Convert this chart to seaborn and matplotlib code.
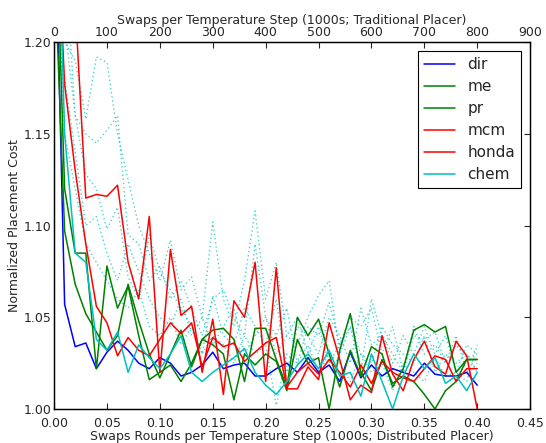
import numpy as np
import pandas as pd
import matplotlib
matplotlib.use("Agg")
import matplotlib.pyplot as plt
import seaborn as sns
from matplotlib.ticker import FormatStrFormatter

# distributed placer: swap rounds per temperature step (1000s)
rounds = [i / 100 for i in range(41)]
# traditional placer: swaps per temperature step (1000s)
swaps = list(range(0, 801, 20))

names = ["dir", "me", "pr", "mcm", "honda", "chem"]
colors = {"dir": "b", "me": "g", "pr": "g", "mcm": "r", "honda": "r", "chem": "c"}

dir_cost = [1.30, 1.057, 1.034, 1.036, 1.022, 1.031, 1.037, 1.032, 1.025, 1.022, 1.028,
            1.025, 1.018, 1.020, 1.024, 1.031, 1.022, 1.024, 1.025, 1.018, 1.018,
            1.022, 1.025, 1.020, 1.028, 1.020, 1.024, 1.015, 1.031, 1.017, 1.024,
            1.018, 1.022, 1.020, 1.018, 1.025, 1.019, 1.018, 1.018, 1.020, 1.013]
me_cost = [1.30, 1.120, 1.085, 1.085, 1.022, 1.078, 1.055, 1.067, 1.040, 1.016, 1.020,
           1.024, 1.015, 1.025, 1.038, 1.043, 1.044, 1.038, 1.015, 1.044, 1.044,
           1.027, 1.012, 1.050, 1.040, 1.049, 1.030, 1.012, 1.032, 1.018, 1.034,
           1.030, 1.012, 1.022, 1.043, 1.046, 1.042, 1.045, 1.020, 1.027, 1.027]
pr_cost = [1.25, 1.097, 1.068, 1.052, 1.042, 1.032, 1.040, 1.068, 1.048, 1.030, 1.017,
           1.030, 1.043, 1.023, 1.038, 1.035, 1.030, 1.005, 1.030, 1.024, 1.030,
           1.026, 1.010, 1.038, 1.025, 1.028, 1.000, 1.032, 1.052, 1.020, 1.010,
           1.027, 1.014, 1.018, 1.015, 1.008, 1.000, 1.010, 1.015, 1.027, 1.027]
mcm_cost = [1.45, 1.26, 1.22, 1.115, 1.117, 1.116, 1.122, 1.080, 1.060, 1.105, 1.020,
            1.087, 1.051, 1.056, 1.020, 1.049, 1.008, 1.059, 1.050, 1.080, 1.015,
            1.077, 1.011, 1.011, 1.023, 1.016, 1.047, 1.027, 1.005, 1.013, 1.009,
            1.040, 1.019, 1.010, 1.027, 1.037, 1.023, 1.019, 1.037, 1.029, 1.000]
honda_cost = [1.30, 1.177, 1.130, 1.090, 1.056, 1.047, 1.029, 1.039, 1.032, 1.029, 1.038,
              1.047, 1.041, 1.047, 1.023, 1.039, 1.034, 1.036, 1.026, 1.031, 1.036,
              1.039, 1.012, 1.020, 1.025, 1.019, 1.027, 1.020, 1.012, 1.024, 1.014,
              1.026, 1.020, 1.017, 1.015, 1.022, 1.029, 1.027, 1.015, 1.022, 1.022]
chem_cost = [1.35, 1.150, 1.085, 1.080, 1.038, 1.032, 1.042, 1.020, 1.035, 1.028, 1.022,
             1.030, 1.040, 1.020, 1.015, 1.020, 1.024, 1.028, 1.033, 1.020, 1.013,
             1.008, 1.015, 1.024, 1.030, 1.022, 1.032, 1.018, 1.020, 1.007, 1.030,
             1.015, 1.000, 1.018, 1.030, 1.022, 1.028, 1.014, 1.018, 1.010, 1.020]

# traditional placer runs (dotted)
trad_1 = [1.40, 1.20, 1.19, 1.158, 1.192, 1.189, 1.150, 1.125, 1.100, 1.085, 1.070,
          1.092, 1.065, 1.072, 1.050, 1.102, 1.060, 1.045, 1.070, 1.108, 1.060,
          1.080, 1.040, 1.035, 1.050, 1.062, 1.070, 1.030, 1.045, 1.020, 1.060,
          1.040, 1.025, 1.040, 1.030, 1.045, 1.030, 1.040, 1.020, 1.035, 1.030]
trad_2 = [1.35, 1.25, 1.16, 1.150, 1.145, 1.152, 1.160, 1.095, 1.090, 1.070, 1.078,
          1.060, 1.070, 1.055, 1.040, 1.060, 1.065, 1.050, 1.040, 1.090, 1.050,
          1.040, 1.055, 1.025, 1.045, 1.040, 1.058, 1.035, 1.050, 1.045, 1.055,
          1.030, 1.045, 1.020, 1.040, 1.038, 1.042, 1.025, 1.035, 1.028, 1.030]
trad_3 = [1.30, 1.21, 1.16, 1.128, 1.120, 1.098, 1.110, 1.072, 1.060, 1.095, 1.075,
          1.065, 1.055, 1.045, 1.030, 1.062, 1.040, 1.035, 1.055, 1.045, 1.035,
          1.060, 1.020, 1.045, 1.040, 1.030, 1.050, 1.040, 1.025, 1.055, 1.035,
          1.040, 1.030, 1.020, 1.045, 1.030, 1.035, 1.025, 1.040, 1.020, 1.025]
trad_4 = [1.25, 1.18, 1.14, 1.100, 1.105, 1.085, 1.070, 1.090, 1.075, 1.060, 1.050,
          1.045, 1.060, 1.040, 1.050, 1.035, 1.045, 1.055, 1.030, 1.040, 1.050,
          1.030, 1.040, 1.050, 1.030, 1.045, 1.025, 1.035, 1.045, 1.030, 1.025,
          1.045, 1.035, 1.030, 1.025, 1.040, 1.020, 1.030, 1.025, 1.030, 1.020]
trad_5 = [1.28, 1.15, 1.12, 1.090, 1.080, 1.070, 1.060, 1.055, 1.065, 1.045, 1.040,
          1.050, 1.035, 1.045, 1.030, 1.040, 1.035, 1.025, 1.040, 1.030, 1.035,
          1.002, 1.030, 1.025, 1.035, 1.020, 1.030, 1.025, 1.015, 1.030, 1.020,
          1.025, 1.010, 1.025, 1.020, 1.015, 1.028, 1.018, 1.020, 1.015, 1.035]

sns.set_style("white")
plt.rcParams["font.family"] = ["DejaVu Sans"]
plt.rcParams["xtick.direction"] = "in"
plt.rcParams["ytick.direction"] = "in"

dist = pd.DataFrame({
    "x": rounds * 6,
    "cost": dir_cost + me_cost + pr_cost + mcm_cost + honda_cost + chem_cost,
    "placer": sum([[n] * len(rounds) for n in names], []),
})
trad_runs = [trad_1, trad_2, trad_3, trad_4, trad_5]
trad = pd.DataFrame({
    "x": swaps * len(trad_runs),
    "cost": sum(trad_runs, []),
    "run": sum([[i] * len(swaps) for i in range(len(trad_runs))], []),
})

fig = plt.figure(figsize=(5.46, 4.43), dpi=100)
ax = fig.add_axes([0.099, 0.0767, 0.872, 0.828])
ax2 = ax.twiny()
ax.set_zorder(ax2.get_zorder() + 1)
ax.patch.set_visible(False)

sns.lineplot(data=trad, x="x", y="cost", units="run", estimator=None, sort=False,
             color="c", linewidth=1, alpha=0.7, ax=ax2, legend=False,
             dashes=False)
for ln in ax2.get_lines():
    ln.set_linestyle((0, (1, 2)))

sns.lineplot(data=dist, x="x", y="cost", hue="placer", hue_order=names,
             palette=colors, estimator=None, sort=False, linewidth=1.1, ax=ax)

ax.set_xlim(0, 0.45)
ax.set_ylim(1.0, 1.2)
ax2.set_xlim(0, 900)
ax.set_xticks(np.arange(0, 0.451, 0.05))
ax.set_yticks(np.arange(1.0, 1.201, 0.05))
ax2.set_xticks(range(0, 901, 100))
ax.xaxis.set_major_formatter(FormatStrFormatter("%.2f"))
ax.yaxis.set_major_formatter(FormatStrFormatter("%.2f"))
ax.tick_params(axis="y", labelsize=9, length=4, width=0.8, right=True, pad=2)
ax.tick_params(axis="x", labelsize=9, length=4, width=0.8, pad=5.5)
ax2.tick_params(axis="x", labelsize=9, length=4, width=0.8, pad=2)
ax2.yaxis.set_visible(False)

ax.set_xlabel("Swaps Rounds per Temperature Step (1000s; Distributed Placer)", fontsize=9, labelpad=0)
ax.set_ylabel("Normalized Placement Cost", fontsize=9, labelpad=2)
ax2.set_xlabel("Swaps per Temperature Step (1000s; Traditional Placer)", fontsize=9, labelpad=2)

for a in (ax, ax2):
    for s in a.spines.values():
        s.set_color("black")
        s.set_linewidth(0.9)

leg = ax.legend(loc="upper right", fontsize=11, fancybox=False, frameon=True,
                edgecolor="black", framealpha=1, borderaxespad=0.6,
                handlelength=2.0, labelspacing=0.45, title=None)
leg.get_frame().set_linewidth(0.8)

fig.savefig("out.png", dpi=100, facecolor="white")
